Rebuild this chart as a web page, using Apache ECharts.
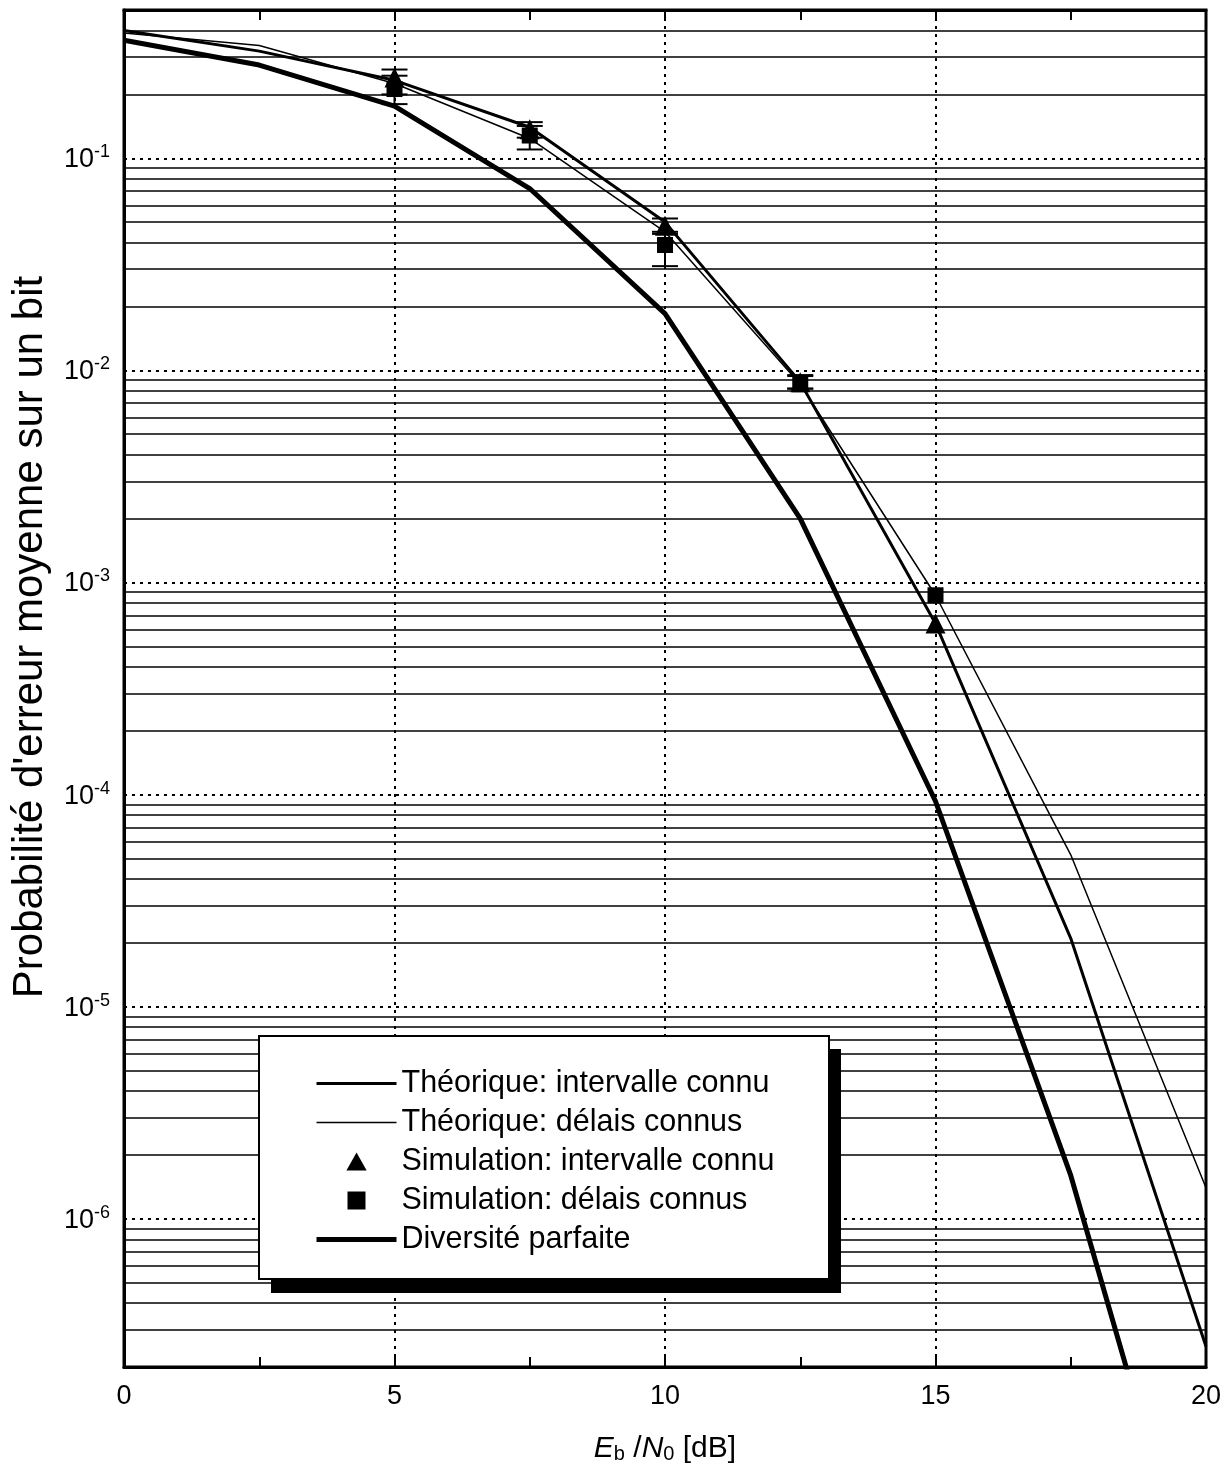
<!DOCTYPE html>
<html>
<head>
<meta charset="utf-8">
<script src="https://cdn.jsdelivr.net/npm/echarts@6/dist/echarts.min.js"></script>
<style>
html, body { margin: 0; background: #fff; }
#chartmain { width: 1229px; height: 1476px; }
</style>
</head>
<body>
<div id="chartmain"></div>
<script>
// Eb/N0 [dB]
var ebn0 = [0, 2.5, 5, 7.5, 10, 12.5, 15, 17.5, 20];
var theo_intervalle = [0.40, 0.32, 0.233, 0.14, 0.050, 8.8e-3, 6.4e-4, 2.1e-5, 2.5e-7];
var theo_delais = [0.39, 0.34, 0.225, 0.124, 0.045, 8.6e-3, 8.7e-4, 5.2e-5, 1.4e-6];
var diversite = [0.36, 0.275, 0.176, 0.072, 0.0185, 2.0e-3, 9.3e-5, 1.6e-6, 1.0e-8];

// simulations
var sim_x = [5, 7.5, 10, 12.5, 15];
var sim_intervalle = [0.24, 0.137, 0.048, 8.8e-3, 6.4e-4];
var sim_delais = [0.212, 0.128, 0.039, 8.6e-3, 8.7e-4];
var err_intervalle_low = [0.20, 0.125, 0.044, 8.2e-3, null];
var err_intervalle_high = [0.262, 0.148, 0.052, 9.5e-3, null];
var err_delais_low = [0.18, 0.11, 0.031, 8.2e-3, null];
var err_delais_high = [0.245, 0.142, 0.045, 9.4e-3, null];

var y_min = 2e-7, y_max = 0.5;

// lignes secondaires 2..9 x 10^k
var minor_lines = [];
for (var k = -7; k <= -1; k++) {
    for (var m = 2; m <= 9; m++) {
        var v = m * Math.pow(10, k);
        if (v > y_min * 1.001 && v < y_max * 0.999) minor_lines.push(v);
    }
}

var font = 'Liberation Sans, Arial, Helvetica, sans-serif';
var tri_icon = 'path://M9,0 L18,16 L0,16 Z';
var sq_icon = 'path://M0,0 L13,0 L13,13 L0,13 Z';
var hidden = { color: 'rgba(0,0,0,0)', borderWidth: 0 };
var solid = { color: '#000', opacity: 1 };

function pairs(xs, ys) {
    return xs.map(function (x, i) { return [x, ys[i]]; });
}
function bars(xs, lo, hi) {
    var out = [];
    xs.forEach(function (x, i) {
        if (lo[i] != null) out.push([x, lo[i], hi[i]]);
    });
    return out;
}

function renderErr(params, api) {
    var lo = api.coord([api.value(0), api.value(1)]);
    var hi = api.coord([api.value(0), api.value(2)]);
    var w = 13;
    var st = { stroke: '#000', lineWidth: 2 };
    return {
        type: 'group',
        children: [
            { type: 'line', shape: { x1: lo[0], y1: lo[1], x2: hi[0], y2: hi[1] }, style: st },
            { type: 'line', shape: { x1: lo[0] - w, y1: lo[1], x2: lo[0] + w, y2: lo[1] }, style: st },
            { type: 'line', shape: { x1: hi[0] - w, y1: hi[1], x2: hi[0] + w, y2: hi[1] }, style: st }
        ]
    };
}

var option = {
    animation: false,
    backgroundColor: '#fff',
    textStyle: { fontFamily: font, color: '#000' },
    grid: {
        left: 124, right: 23, top: 10, bottom: 109,
        show: true, borderColor: '#000', borderWidth: 3
    },
    legend: {
        orient: 'vertical',
        left: 314, top: 1068,
        padding: 0,
        z: 100,
        itemWidth: 80, itemHeight: 18,
        itemGap: 8,
        itemTextGap: 3,
        symbolKeepAspect: true,
        data: [
            { name: 'Théorique: intervalle connu', itemStyle: hidden, lineStyle: { color: '#000', width: 3 } },
            { name: 'Théorique: délais connus', itemStyle: hidden, lineStyle: { color: '#000', width: 1.5 } },
            { name: 'Simulation: intervalle connu', icon: tri_icon, itemStyle: solid },
            { name: 'Simulation: délais connus', icon: sq_icon, itemStyle: solid },
            { name: 'Diversité parfaite', itemStyle: hidden, lineStyle: { color: '#000', width: 5 } }
        ],
        textStyle: { fontFamily: font, fontSize: 30.5, lineHeight: 30, color: '#000' },
        itemStyle: { color: '#000' }
    },
    graphic: [
        { type: 'rect', left: 271, top: 1049, z: 50,
          shape: { width: 570, height: 244 }, style: { fill: '#000' } },
        { type: 'rect', left: 258, top: 1035, z: 51,
          shape: { width: 570, height: 243 }, style: { fill: '#fff', stroke: '#000', lineWidth: 2 } },
        { type: 'text', x: 30, y: 637, z: 10, rotation: Math.PI / 2,
          style: { text: "Probabilité d'erreur moyenne sur un bit", font: '42px ' + font, fill: '#000',
                   textAlign: 'center', textVerticalAlign: 'middle' } }
    ],
    xAxis: [{
        type: 'value',
        min: 0, max: 20, interval: 5,
        position: 'bottom',
        axisLine: { lineStyle: { color: '#000', width: 3 } },
        axisTick: { inside: true, length: 10, lineStyle: { color: '#000', width: 2 } },
        minorTick: { show: true, splitNumber: 2, length: 10, lineStyle: { color: '#000', width: 2 } },
        axisLabel: { fontSize: 27, color: '#000', margin: 16, fontFamily: font },
        splitLine: { show: true, lineStyle: { color: '#000', type: [3, 5], width: 2 } },
        name: '{i|E}{s|b}{n| /}{i|N}{s|0}{n| [dB]}',
        nameLocation: 'middle',
        nameGap: 63,
        nameTextStyle: {
            rich: {
                i: { fontSize: 30, fontStyle: 'italic', fontFamily: font, verticalAlign: 'bottom', lineHeight: 34 },
                n: { fontSize: 30, fontFamily: font, verticalAlign: 'bottom', lineHeight: 34 },
                s: { fontSize: 20, fontFamily: font, verticalAlign: 'bottom', lineHeight: 22 }
            }
        }
    }, {
        type: 'value',
        min: 0, max: 20, interval: 5,
        position: 'top',
        axisLine: { lineStyle: { color: '#000', width: 3 } },
        axisTick: { inside: true, length: 10, lineStyle: { color: '#000', width: 2 } },
        minorTick: { show: true, splitNumber: 2, length: 10, lineStyle: { color: '#000', width: 2 } },
        axisLabel: { show: false },
        splitLine: { show: false }
    }],
    yAxis: {
        type: 'log',
        logBase: 10,
        min: y_min, max: y_max,
        axisLine: { lineStyle: { color: '#000', width: 3 } },
        axisTick: { show: false },
        axisLabel: {
            margin: 14,
            showMinLabel: false, showMaxLabel: false,
            formatter: function (value) {
                var e = Math.log10(value);
                if (Math.abs(e - Math.round(e)) > 1e-6) return '';
                return '{b|10}{e|' + Math.round(e) + '}';
            },
            rich: {
                b: { fontSize: 27, fontFamily: font, color: '#000', verticalAlign: 'bottom', lineHeight: 30 },
                e: { fontSize: 18, fontFamily: font, color: '#000', verticalAlign: 'bottom', lineHeight: 30, padding: [0, 0, 12, 0] }
            }
        },
        splitLine: { show: true, lineStyle: { color: '#000', type: [3, 5], width: 2 } }
    },
    series: [{
        name: '_grille',
        type: 'line',
        data: [],
        silent: true,
        z: 1,
        markLine: {
            silent: true,
            symbol: 'none',
            precision: 12,
            label: { show: false },
            lineStyle: { color: '#000', type: 'solid', width: 1.6 },
            data: minor_lines.map(function (v) { return { yAxis: v }; })
        }
    }, {
        name: 'Théorique: intervalle connu',
        type: 'line',
        symbol: 'none',
        z: 3,
        data: pairs(ebn0, theo_intervalle),
        lineStyle: { color: '#000', width: 3 },
        itemStyle: { color: '#000' }
    }, {
        name: 'Théorique: délais connus',
        type: 'line',
        symbol: 'none',
        z: 3,
        data: pairs(ebn0, theo_delais),
        lineStyle: { color: '#000', width: 1.5 },
        itemStyle: { color: '#000' }
    }, {
        name: 'Diversité parfaite',
        type: 'line',
        symbol: 'none',
        z: 3,
        data: pairs(ebn0, diversite),
        lineStyle: { color: '#000', width: 5 },
        itemStyle: { color: '#000' }
    }, {
        name: 'Simulation: intervalle connu',
        type: 'scatter',
        symbol: 'triangle',
        symbolSize: 20,
        z: 4,
        data: pairs(sim_x, sim_intervalle),
        itemStyle: { color: '#000', opacity: 1 }
    }, {
        name: 'Simulation: délais connus',
        type: 'scatter',
        symbol: 'rect',
        symbolSize: 16,
        z: 4,
        data: pairs(sim_x, sim_delais),
        itemStyle: { color: '#000', opacity: 1 }
    }, {
        name: '_err_intervalle',
        type: 'custom',
        z: 5,
        renderItem: renderErr,
        encode: { x: 0, y: [1, 2] },
        data: bars(sim_x, err_intervalle_low, err_intervalle_high)
    }, {
        name: '_err_delais',
        type: 'custom',
        z: 5,
        renderItem: renderErr,
        encode: { x: 0, y: [1, 2] },
        data: bars(sim_x, err_delais_low, err_delais_high)
    }]
};

var myChart = echarts.init(document.getElementById('chartmain'));
myChart.setOption(option);
</script>
</body>
</html>
